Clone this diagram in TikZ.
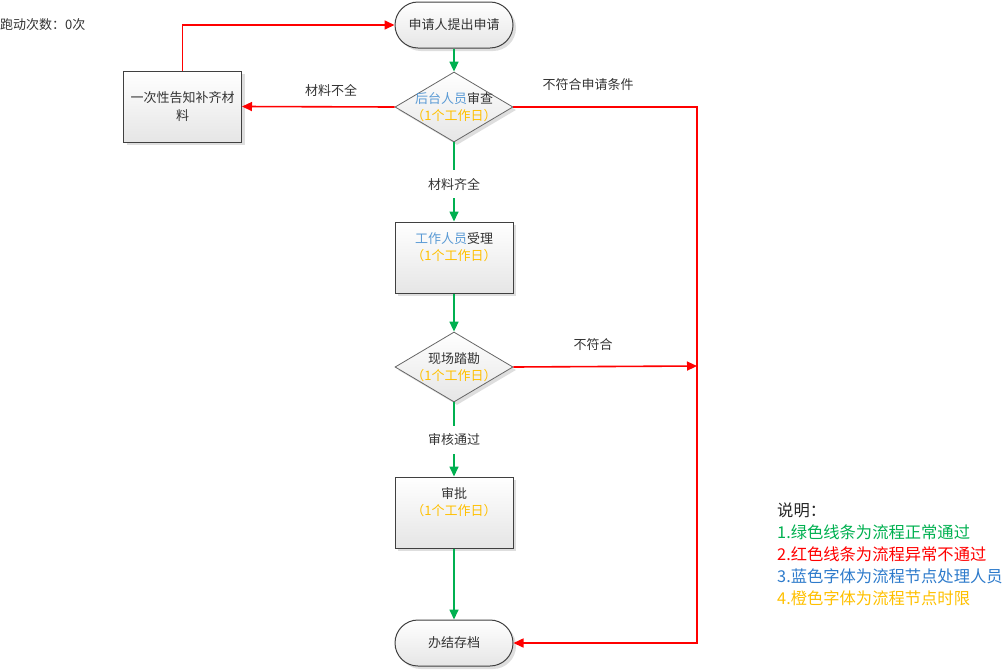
\documentclass[tikz,border=0pt]{standalone}
\usepackage{fontspec}
\setmainfont{Noto Sans CJK SC}
\usetikzlibrary{arrows.meta,shapes.geometric,shadows}
\definecolor{gr}{HTML}{00B050}
\definecolor{rd}{HTML}{FF0000}
\definecolor{bl}{HTML}{5B9BD5}
\definecolor{lbl}{HTML}{2E7BCB}
\definecolor{og}{HTML}{FFC000}
\definecolor{tx}{HTML}{333333}
\begin{document}
\begin{tikzpicture}[x=1pt,y=-1pt,
  base/.style={draw=black!75, line width=1pt, top color=white, bottom color=black!10,
    drop shadow={shadow xshift=3pt,shadow yshift=-3pt,fill=black!13,opacity=1},
    font=\fontsize{13}{18}\selectfont, text=tx, align=center},
  procbox/.style={base, rectangle, minimum width=118pt, minimum height=71pt, inner sep=0pt},
  term/.style={base, rectangle, rounded corners=23pt, minimum width=118pt, minimum height=46pt, inner sep=0pt},
  dec/.style={base, diamond, draw=black!60, line width=0.8pt, minimum width=118pt, minimum height=70pt, inner sep=0pt},
  txt/.style={font=\fontsize{13}{17}\selectfont, text=tx, align=center, inner sep=0pt},
  elbl/.style={font=\fontsize{13}{17}\selectfont, text=tx, inner sep=8pt},
  tip/.style={-{Triangle[length=10pt,width=9pt]}},
  gline/.style={draw=gr, line width=1.6pt},
  rline/.style={draw=rd, line width=1.6pt},
]
\useasboundingbox (0,0) rectangle (1006,670);

\node[txt, anchor=west] (runs) at (0,25) {跑动次数：0次};

\node[term] (start) at (454,25) {申请人提出申请};
\node[dec, label={[txt]center:{\textcolor{bl}{后台人员}审查\\\textcolor{og}{（1个工作日）}}}] (d1) at (454,107) {};
\node[procbox] (b1) at (182.5,106.5) {一次性告知补齐材\\料};
\node[procbox, label={[txt,anchor=north,yshift=-11pt]north:{\textcolor{bl}{工作人员}受理\\\textcolor{og}{（1个工作日）}}}] (b2) at (454,257.5) {};
\node[dec, label={[txt]center:{现场踏勘\\\textcolor{og}{（1个工作日）}}}] (d2) at (454,367) {};
\node[procbox, label={[txt,anchor=north,yshift=-11pt]north:{审批\\\textcolor{og}{（1个工作日）}}}] (b3) at (454,512.5) {};
\node[term] (end) at (454,643) {办结存档};

\node[elbl] (l1) at (454,184) {材料齐全};
\node[elbl] (l2) at (454,440) {审核通过};
\node[txt] (l3) at (331,90) {材料不全};
\node[txt] (l4) at (588,85) {不符合申请条件};
\node[txt] (l5) at (593,345) {不符合};

\coordinate (j1) at (697,107);
\coordinate (j2) at (697,366);
\coordinate (j3) at (697,643);
\coordinate (k1) at (182.5,25);

% green flow
\draw[gline, tip] (start.south) -- (d1.north);
\draw[gline] (d1.south) -- (l1.north);
\draw[gline, tip] (l1.south) -- (b2.north);
\draw[gline, tip] (b2.south) -- (d2.north);
\draw[gline] (d2.south) -- (l2.north);
\draw[gline, tip] (l2.south) -- (b3.north);
\draw[gline, tip] (b3.south) -- (end.north);

% red flow
\draw[rline, tip] (d1.west) -- (b1.east);
\draw[rline, tip] (b1.north) -- (k1) -- (start.west);
\draw[rline, tip] (d1.east) -- (j1) -- (j3) -- (end.east);
\draw[rline, tip] (d2.east) -- (j2);

\node[anchor=north west, inner sep=0pt, align=left, font=\fontsize{16.3}{22}\selectfont, text=black!85] (legend) at (777,503)
  {说明：\\
   \textcolor{gr}{1.绿色线条为流程正常通过}\\
   \textcolor{rd}{2.红色线条为流程异常不通过}\\
   \textcolor{lbl}{3.蓝色字体为流程节点处理人员}\\
   \textcolor{og}{4.橙色字体为流程节点时限}};
\end{tikzpicture}
\end{document}
